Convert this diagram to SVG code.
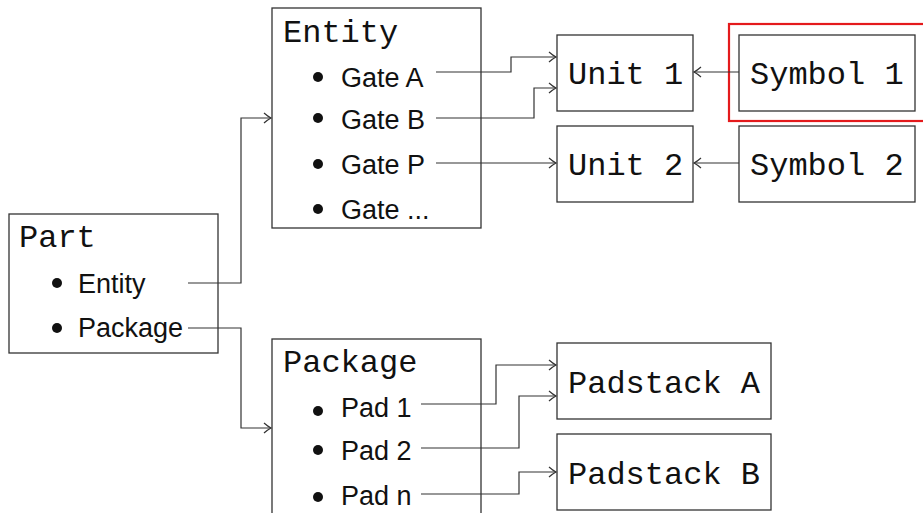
<svg xmlns="http://www.w3.org/2000/svg" width="923" height="513" viewBox="0 0 923 513">
<style>
.box{fill:#fff;stroke:#333;stroke-width:1.3}
.mono{font-family:"Liberation Mono","DejaVu Sans Mono",monospace;font-size:32px;fill:#111}
.sans{font-family:"Liberation Sans","DejaVu Sans",sans-serif;font-size:27px;fill:#111}
.con path{fill:none;stroke:#333;stroke-width:1.2}
.bul{fill:#111}
</style>
<defs>
<marker id="arr" markerUnits="userSpaceOnUse" markerWidth="12" markerHeight="12" viewBox="-8 -6 10 12" refX="0" refY="0" orient="auto">
<path d="M-7,-5 Q-3,-1.5 0,0 Q-3,1.5 -7,5" fill="none" stroke="#333" stroke-width="1.2"/>
</marker>
</defs>
<rect x="0" y="0" width="923" height="513" fill="#fff"/>

<g id="highlight">
<rect x="729" y="24" width="210" height="97" fill="none" stroke="#e41a1c" stroke-width="2.2"/>
</g>

<g id="part">
<rect class="box" x="9" y="214" width="209" height="139"/>
<text class="mono" x="19" y="247">Part</text>
<circle class="bul" cx="57" cy="283" r="5"/>
<text class="sans" x="78" y="293">Entity</text>
<circle class="bul" cx="57" cy="328" r="5"/>
<text class="sans" x="78" y="337">Package</text>
</g>

<g id="entity">
<rect class="box" x="272" y="8" width="209" height="220"/>
<text class="mono" x="283" y="42">Entity</text>
<circle class="bul" cx="318" cy="77" r="5"/>
<text class="sans" x="341" y="87">Gate A</text>
<circle class="bul" cx="318" cy="118" r="5"/>
<text class="sans" x="341" y="129">Gate B</text>
<circle class="bul" cx="318" cy="164" r="5"/>
<text class="sans" x="341" y="174">Gate P</text>
<circle class="bul" cx="318" cy="209" r="5"/>
<text class="sans" x="341" y="219">Gate ...</text>
</g>

<g id="package">
<rect class="box" x="272" y="339" width="209" height="190"/>
<text class="mono" x="283" y="372">Package</text>
<circle class="bul" cx="318" cy="411" r="5"/>
<text class="sans" x="341" y="417">Pad 1</text>
<circle class="bul" cx="318" cy="450" r="5"/>
<text class="sans" x="341" y="460">Pad 2</text>
<circle class="bul" cx="318" cy="497" r="5"/>
<text class="sans" x="341" y="505">Pad n</text>
</g>

<g id="unit1">
<rect class="box" x="557" y="35" width="136" height="76"/>
<text class="mono" x="568" y="84">Unit 1</text>
</g>
<g id="unit2">
<rect class="box" x="557" y="126" width="136" height="76"/>
<text class="mono" x="568" y="175">Unit 2</text>
</g>
<g id="symbol1">
<rect class="box" x="739" y="35" width="176" height="76"/>
<text class="mono" x="750" y="84">Symbol 1</text>
</g>
<g id="symbol2">
<rect class="box" x="739" y="126" width="176" height="76"/>
<text class="mono" x="750" y="175">Symbol 2</text>
</g>
<g id="padstackA">
<rect class="box" x="557" y="343" width="214" height="76"/>
<text class="mono" x="568" y="393">Padstack A</text>
</g>
<g id="padstackB">
<rect class="box" x="557" y="434" width="214" height="76"/>
<text class="mono" x="568" y="484">Padstack B</text>
</g>

<g class="con" id="connectors">
<path d="M188,283 H241 V118 H271" marker-end="url(#arr)"/>
<path d="M188,328 H241 V428 H271" marker-end="url(#arr)"/>
<path d="M436,72 H511 V57 H556" marker-end="url(#arr)"/>
<path d="M436,118 H534 V88 H556" marker-end="url(#arr)"/>
<path d="M436,163 H556" marker-end="url(#arr)"/>
<path d="M739,72 H694" marker-end="url(#arr)"/>
<path d="M739,163 H694" marker-end="url(#arr)"/>
<path d="M421,404 H496 V365 H556" marker-end="url(#arr)"/>
<path d="M421,448 H519 V396 H556" marker-end="url(#arr)"/>
<path d="M421,494 H519 V472 H556" marker-end="url(#arr)"/>
</g>
</svg>
